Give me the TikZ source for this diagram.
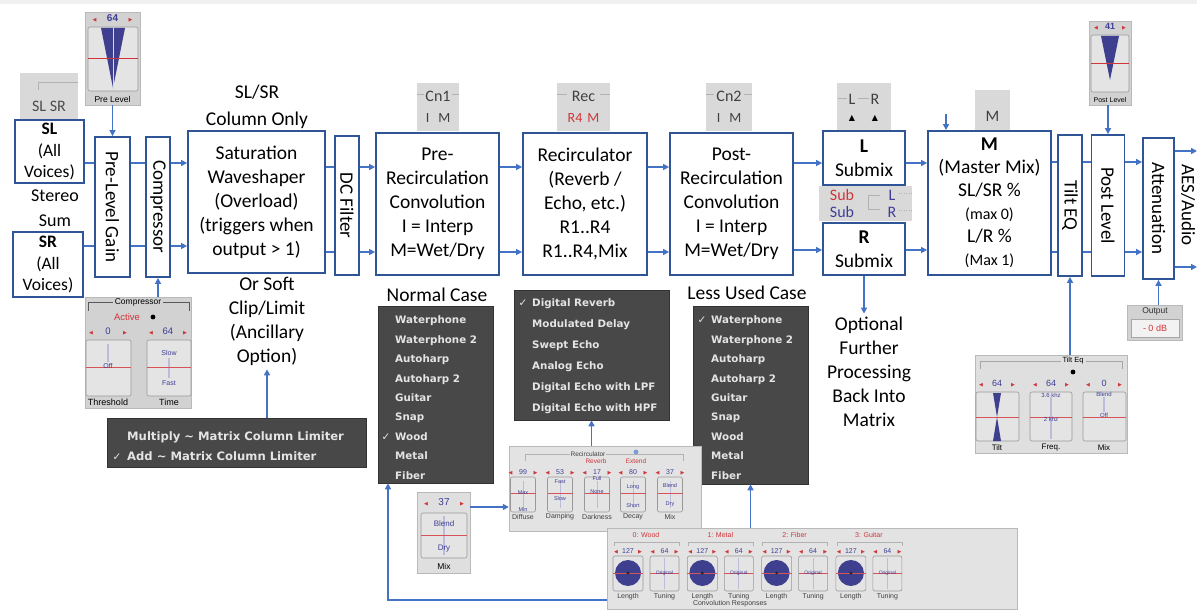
\documentclass[tikz,border=0pt]{standalone}
\usepackage{fontspec}
\setmainfont{Carlito}
\newfontfamily\menufont{DejaVu Sans}
\newfontfamily\uifont{Liberation Sans}
\usetikzlibrary{arrows.meta}

\definecolor{boxblue}{HTML}{2F5597}
\definecolor{wireblue}{HTML}{4472C4}
\definecolor{menugray}{HTML}{484848}
\definecolor{menutext}{HTML}{E4E4E4}
\definecolor{panelgray}{HTML}{D2D2D2}
\definecolor{knobgray}{HTML}{E4E4E4}
\definecolor{uired}{HTML}{D0353A}
\definecolor{uiblue}{HTML}{3E3E96}
\definecolor{knobblue}{HTML}{3F3F8F}

\newcommand{\valbar}[2]{\makebox[#1]{{\color{uired}\menufont\fontsize{5}{6}\selectfont ◀}\hfill{\color{uiblue}#2}\hfill{\color{uired}\menufont\fontsize{5}{6}\selectfont ▶}}}

\begin{document}
\begin{tikzpicture}[
    x=1pt, y=-1pt,
    >={Triangle[length=6pt,width=6pt]},
    sz/.style 2 args={minimum width=#1pt, minimum height=#2pt},
    blk/.style={draw=boxblue, line width=1.8pt, fill=white, align=center, inner sep=0pt, font=\fontsize{19.5}{24}\selectfont},
    vtext/.style={rotate=-90, font=\fontsize{19}{20}\selectfont},
    wire/.style={draw=wireblue, line width=1.6pt},
    note/.style={align=center, font=\fontsize{19.5}{24}\selectfont},
    panel/.style={fill=panelgray, draw=gray!55, line width=0.4pt, inner sep=0pt},
    menu/.style={fill=menugray, draw=gray!40!black, line width=0.6pt, inner sep=0pt},
    item/.style={anchor=base west, text=menutext, inner sep=0pt, font=\menufont\bfseries\fontsize{10.3}{12}\selectfont},
    tick/.style={anchor=base, text=menutext, inner sep=0pt, font=\menufont\fontsize{10.5}{12}\selectfont},
    knob/.style={fill=knobgray, draw=gray!80, rounded corners=2pt, line width=0.6pt},
    tiny/.style={inner sep=0pt, font=\uifont\fontsize{7}{8}\selectfont},
    chip/.style={font=\fontsize{16}{17}\selectfont, text=black!75, inner sep=0pt}
]
    \useasboundingbox (0,0) rectangle (1197,612);
    \fill[gray!12] (0,0) rectangle (1197,4);

    % small selectors above the chain
    \node[panel, sz={58}{47}, draw=none, fill=gray!30] (slsrw) at (49,96.5) {};
    \draw[gray!60, line width=0.6pt] (38,90) |- (78,82);
    \node[chip, text=black!70] at (49,106) {SL SR};

    \node[panel, sz={55}{93}] (prew) at (112.5,58.5) {};
    \node[tiny, font=\uifont\bfseries\fontsize{10}{11}\selectfont] at (112.5,18) {\valbar{40pt}{64}};
    \draw[knob] (88,27) rectangle (138,91);
    \fill[knobblue] (101,28) -- (125,28) -- (113,88) -- cycle;
    \draw[white!70!gray, line width=0.5pt] (113,28) -- (113,90);
    \draw[uired, line width=0.7pt] (88,58) -- (138,58);
    \node[tiny, font=\uifont\fontsize{8.5}{9}\selectfont] at (112.5,99) {Pre Level};

    \node[panel, sz={42}{48}, draw=none, fill=gray!30] (cn1w) at (438,107) {};
    \draw[gray!60, line width=0.5pt] (417,94) -- (424,94) (452,94) -- (459,94);
    \node[chip] at (438,96) {Cn1};
    \node[chip, font=\fontsize{14}{15}\selectfont] at (438,118) {I\hspace{9pt}M};

    \node[panel, sz={53}{48}, draw=none, fill=gray!30] (recsw) at (583.5,107) {};
    \draw[gray!60, line width=0.5pt] (557,94) -- (567,94) (600,94) -- (610,94);
    \node[chip] at (583.5,96) {Rec};
    \node[chip, font=\fontsize{14}{15}\selectfont, text=uired] at (583.5,118) {R4\hspace{5pt}M};

    \node[panel, sz={46}{48}, draw=none, fill=gray!30] (cn2w) at (729,107) {};
    \draw[gray!60, line width=0.5pt] (706,94) -- (714,94) (744,94) -- (752,94);
    \node[chip] at (729,96) {Cn2};
    \node[chip, font=\fontsize{14}{15}\selectfont] at (729,118) {I\hspace{9pt}M};

    \node[panel, sz={54}{47}, draw=none, fill=gray!30] (lrw) at (864,106.5) {};
    \draw[gray!60, line width=0.5pt] (838,98) -- (847,98) (858,98) -- (869,98);
    \node[chip] at (852,99) {L};
    \node[chip] at (875,99) {R};
    \node[font=\menufont\fontsize{8}{9}\selectfont] at (852,118) {▲};
    \node[font=\menufont\fontsize{8}{9}\selectfont] at (875,118) {▲};

    \node[panel, sz={93}{35}, draw=none, fill=gray!30] (subw) at (865.5,203.5) {};
    \draw[gray!60, line width=0.5pt] (880,195) -- (868,195) -- (868,209) -- (880,209);
    \draw[gray!60, line width=0.4pt, dotted] (899,193) -- (912,193) (899,210) -- (912,210);
    \node[chip, text=uired] at (842,195) {Sub};
    \node[chip, text=uiblue] at (842,212) {Sub};
    \node[chip, text=uiblue] at (892,195) {L};
    \node[chip, text=uiblue] at (892,212) {R};

    \node[panel, sz={35}{41}, draw=none, fill=gray!30] (mw) at (992.5,110.5) {};
    \node[chip] at (992.5,116) {M};

    \node[panel, sz={42}{84}] (postw) at (1110,63) {};
    \node[tiny, font=\uifont\bfseries\fontsize{9}{10}\selectfont] at (1110,27) {\valbar{32pt}{41}};
    \draw[knob] (1091,35) rectangle (1129,92);
    \fill[knobblue] (1101,36) -- (1119,36) -- (1110,80) -- cycle;
    \draw[uired, line width=0.7pt] (1091,63) -- (1129,63);
    \node[tiny, font=\uifont\fontsize{7}{8}\selectfont] at (1110,100) {Post Level};

    % signal chain
    \node[blk, sz={69}{63}, font=\fontsize{17.5}{21.5}\selectfont] (sl) at (49.5,151.5) {\textbf{SL}\\(All\\Voices)};
    \node[blk, sz={70}{65}, font=\fontsize{17.5}{21.5}\selectfont] (sr) at (48,264.5) {\textbf{SR}\\(All\\Voices)};
    \node[blk, sz={35}{140}, label={[vtext]center:Pre-Level Gain}] (plg) at (112.5,207) {};
    \node[blk, sz={24}{140}, label={[vtext]center:Compressor}] (comp) at (158,207) {};
    \node[blk, sz={137}{142}] (sat) at (256.5,202) {Saturation\\Waveshaper\\(Overload)\\(triggers when\\output > 1)};
    \node[blk, sz={24}{139}, label={[vtext]center:DC Filter}] (dcf) at (347,205.5) {};
    \node[blk, sz={123}{142}] (prc) at (437.5,204) {Pre-\\Recirculation\\Convolution\\I = Interp\\M=Wet/Dry};
    \node[blk, sz={124}{142}] (rec) at (585,204) {Recirculator\\(Reverb /\\Echo, etc.)\\R1..R4\\R1..R4,Mix};
    \node[blk, sz={123}{142}] (poc) at (731.5,204) {Post-\\Recirculation\\Convolution\\I = Interp\\M=Wet/Dry};
    \node[blk, sz={82}{54}] (lsub) at (864,158) {\textbf{L}\\Submix};
    \node[blk, sz={82}{52}] (rsub) at (864,249) {\textbf{R}\\Submix};
    \node[blk, sz={123}{144}, font=\fontsize{19.5}{23}\selectfont] (mm) at (989.5,203) {\textbf{M}\\(Master Mix)\\SL/SR \%\\{\fontsize{16}{23}\selectfont(max 0)}\\L/R \%\\{\fontsize{16}{23}\selectfont(Max 1)}};
    \node[blk, sz={24}{141}, label={[vtext]center:Tilt EQ}] (tilt) at (1070,205.5) {};
    \node[blk, sz={33}{141}, label={[vtext]center:Post Level}] (post) at (1108,205.5) {};
    \node[blk, sz={31}{141}, label={[vtext]center:Attenuation}] (att) at (1158.5,208.5) {};
    \node[vtext] (aes) at (1188,205) {AES/Audio};

    \node[note, font=\fontsize{19.5}{27}\selectfont] (colonly) at (257,107) {SL/SR\\Column Only};
    \node[note, font=\fontsize{18}{25}\selectfont] (stsum) at (55,208) {Stereo\\Sum};
    \node[note] (soft) at (267,321.5) {Or Soft\\Clip/Limit\\(Ancillary\\Option)};
    \node[note] (opt) at (869,372) {Optional\\Further\\Processing\\Back Into\\Matrix};
    \node[note] (normlab) at (437,295) {Normal Case};
    \node[note] (lesslab) at (747,293) {Less Used Case};

    % rails
    \coordinate (railA) at (0,163);
    \coordinate (railB) at (0,246);
    \coordinate (railC) at (0,167);
    \coordinate (railD) at (0,252);
    \coordinate (railE) at (0,163);
    \coordinate (railF) at (0,250);
    \coordinate (railG) at (0,162);
    \coordinate (railH) at (0,252);
    \coordinate (outA) at (1197,151);
    \coordinate (outB) at (1197,267);
    \coordinate (mtop) at (946,114);

    \draw[wire] (sl.east |- railA) -- (plg.west |- railA);
    \draw[wire] (sr.east |- railB) -- (plg.west |- railB);
    \draw[wire] (plg.east |- railA) -- (comp.west |- railA);
    \draw[wire] (plg.east |- railB) -- (comp.west |- railB);
    \draw[wire, ->] (comp.east |- railA) -- (sat.west |- railA);
    \draw[wire, ->] (comp.east |- railB) -- (sat.west |- railB);
    \draw[wire] (sat.east |- railC) -- (dcf.west |- railC);
    \draw[wire] (sat.east |- railD) -- (dcf.west |- railD);
    \draw[wire, ->] (dcf.east |- railC) -- (prc.west |- railC);
    \draw[wire, ->] (dcf.east |- railD) -- (prc.west |- railD);
    \draw[wire, ->] (prc.east |- railC) -- (rec.west |- railC);
    \draw[wire, ->] (prc.east |- railD) -- (rec.west |- railD);
    \draw[wire, ->] (rec.east |- railC) -- (poc.west |- railC);
    \draw[wire, ->] (rec.east |- railD) -- (poc.west |- railD);
    \draw[wire, ->] (poc.east |- railE) -- (lsub.west |- railE);
    \draw[wire, ->] (poc.east |- railF) -- (rsub.west |- railF);
    \draw[wire, ->] (lsub.east |- railE) -- (mm.west |- railE);
    \draw[wire, ->] (rsub.east |- railF) -- (mm.west |- railF);
    \draw[wire, ->] (mtop) -- (mtop |- mm.north);
    \draw[wire] (mm.east |- railG) -- (tilt.west |- railG);
    \draw[wire] (mm.east |- railH) -- (tilt.west |- railH);
    \draw[wire] (tilt.east |- railG) -- (post.west |- railG);
    \draw[wire] (tilt.east |- railH) -- (post.west |- railH);
    \draw[wire, ->] (post.east |- railG) -- (att.west |- railG);
    \draw[wire, ->] (post.east |- railH) -- (att.west |- railH);
    \draw[wire, ->] (att.east |- outA) -- (outA);
    \draw[wire, ->] (att.east |- outB) -- (outB);
    \draw[wire, ->] (prew.south) -- (plg.north);
    \draw[wire, ->] (post.north |- postw.south) -- (post.north);
    \draw[wire, ->] (rsub.south) -- (rsub.south |- opt.north);

    % compressor panel
    \node[panel, sz={106}{111}] (compw) at (138,352.5) {};
    \draw[gray!70!black, line width=0.5pt] (88,311) |- (189,302) -- (189,311);
    \node[tiny, fill=panelgray, inner xsep=2pt, font=\uifont\fontsize{8.5}{9}\selectfont] at (138,302) {Compressor};
    \node[tiny, text=uired, font=\uifont\fontsize{9.5}{10}\selectfont] at (127,317) {Active};
    \fill (153,317) circle (2.4pt);
    \node[tiny, font=\uifont\fontsize{9.5}{10}\selectfont] at (108,331) {\valbar{38pt}{0}};
    \node[tiny, font=\uifont\fontsize{9.5}{10}\selectfont] at (168,331) {\valbar{38pt}{64}};
    \draw[knob] (86,340) rectangle (131,396);
    \draw[knob] (147,340) rectangle (191,396);
    \draw[uiblue!35, line width=1.2pt] (108,344) -- (108,362);
    \draw[uiblue!35, line width=1.2pt] (169,358) -- (169,378);
    \draw[uired!85, line width=0.6pt] (86,367) -- (131,367) (147,367) -- (191,367);
    \node[tiny, text=uiblue] at (108,366) {Off};
    \node[tiny, text=uiblue] at (169,353) {Slow};
    \node[tiny, text=uiblue] at (169,383) {Fast};
    \node[tiny, font=\uifont\fontsize{9}{10}\selectfont] at (108,402) {Threshold};
    \node[tiny, font=\uifont\fontsize{9}{10}\selectfont] at (169,402) {Time};
    \draw[wire, ->] (comp.south |- compw.north) -- (comp.south);

    % limiter menu
    \node[menu, sz={259}{49}] (limm) at (236.5,442.5) {};
    \node[item, font=\menufont\bfseries\fontsize{11.6}{13}\selectfont] at (127,440) {Multiply \textasciitilde{} Matrix Column Limiter};
    \node[item, font=\menufont\bfseries\fontsize{11.6}{13}\selectfont] at (127,460) {Add \textasciitilde{} Matrix Column Limiter};
    \node[tick] at (117,460) {✓};
    \draw[wire, ->] (soft.south |- limm.north) -- (soft.south);

    % convolution menus
    \node[menu, sz={115}{177}] (normm) at (435.5,394.5) {};
    \foreach \t [count=\i from 0] in {Waterphone, Waterphone 2, Autoharp, Autoharp 2, Guitar, Snap, Wood, Metal, Fiber}
        \node[item] at (395,{323.8+19.4*\i}) {\t};
    \node[tick] at (386,440) {✓};

    \node[menu, sz={115}{178}] (lessm) at (750.5,395) {};
    \foreach \t [count=\i from 0] in {Waterphone, Waterphone 2, Autoharp, Autoharp 2, Guitar, Snap, Wood, Metal, Fiber}
        \node[item] at (711,{323.8+19.4*\i}) {\t};
    \node[tick] at (702,323.8) {✓};

    % recirculator menu and panel
    \node[menu, sz={155}{130}] (revm) at (591.5,355) {};
    \foreach \t [count=\i from 0] in {Digital Reverb, Modulated Delay, Swept Echo, Analog Echo, Digital Echo with LPF, Digital Echo with HPF}
        \node[item] at (532,{306.8+21*\i}) {\t};
    \node[tick] at (523,306.8) {✓};

    \node[panel, sz={192}{85}, fill=gray!22] (recw) at (605,488.5) {};
    \draw[gray!60, line width=0.4pt] (525,461) |- (683,454) -- (683,461);
    \node[tiny, fill=gray!22, inner xsep=1pt, font=\uifont\fontsize{6.5}{7}\selectfont, text=black!75] at (588,454) {Recirculator};
    \node[tiny, text=uired, font=\uifont\fontsize{6.5}{7}\selectfont] at (596,461) {Reverb};
    \node[tiny, text=uired, font=\uifont\fontsize{6.5}{7}\selectfont] at (636,461) {Extend};
    \fill[wireblue!70] (636,452) circle (2.4pt);
    \foreach \cx/\v/\ta/\ya/\tb/\yb/\lab in {523/99/Max/493/Min/510/Diffuse, 560/53/Fast/482/Slow/499/Damping, 597/17/Full/479/None/492/Darkness, 633/80/Long/487/Short/506/Decay, 670/37/Blend/486/Dry/504/Mix} {
        \node[tiny, font=\uifont\fontsize{7}{8}\selectfont] at (\cx,472) {\valbar{29pt}{\v}};
        \draw[knob] (\cx-12.5,477) rectangle (\cx+12.5,512);
        \draw[uiblue!35, line width=1pt] (\cx,481) -- (\cx,508);
        \draw[uired!85, line width=0.5pt] (\cx-12.5,493) -- (\cx+12.5,493);
        \node[tiny, text=uiblue, font=\uifont\fontsize{5.5}{6}\selectfont] at (\cx,\ya) {\ta};
        \node[tiny, text=uiblue, font=\uifont\fontsize{5.5}{6}\selectfont] at (\cx,\yb) {\tb};
        \node[tiny, text=black!75] at (\cx,517) {\lab};
    }
    \draw[wire, ->] (revm.south |- recw.north) -- (revm.south);

    % mix panel
    \node[panel, sz={53}{81}, fill=gray!25] (mixw) at (443.5,532.5) {};
    \node[tiny, font=\uifont\fontsize{10}{11}\selectfont] at (444,502) {\valbar{40pt}{37}};
    \draw[knob] (421,513) rectangle (467,558);
    \draw[uiblue!35, line width=1.2pt] (444,516) -- (444,555);
    \draw[uired!85, line width=0.6pt] (421,535) -- (467,535);
    \node[tiny, text=uiblue, font=\uifont\fontsize{8}{9}\selectfont] at (444,524) {Blend};
    \node[tiny, text=uiblue, font=\uifont\fontsize{8}{9}\selectfont] at (444,549) {Dry};
    \node[tiny, font=\uifont\fontsize{8.5}{9}\selectfont] at (444,566) {Mix};
    \draw[wire, ->] ([yshift=25.5pt]mixw.east) -- ([yshift=25.5pt]mixw.east -| recw.west);

    % convolution responses panel
    \node[panel, sz={410}{81}, fill=gray!22] (convw) at (812,568.5) {};
    \foreach \k/\nm in {0/{0: Wood}, 1/{1: Metal}, 2/{2: Fiber}, 3/{3: Guitar}} {
        \node[tiny, text=uired, font=\uifont\fontsize{7}{8}\selectfont] at ({646+74.3*\k},535) {\nm};
        \draw[gray!60, line width=0.4pt] ({614+74.3*\k},546) |- ({679+74.3*\k},542) -- ({679+74.3*\k},546);
        \node[tiny, font=\uifont\fontsize{7}{8}\selectfont] at ({628+74.3*\k},551) {\valbar{28pt}{127}};
        \node[tiny, font=\uifont\fontsize{7}{8}\selectfont] at ({664.5+74.3*\k},551) {\valbar{28pt}{64}};
        \draw[knob] ({613+74.3*\k},556) rectangle ({643+74.3*\k},591);
        \draw[knob] ({650+74.3*\k},556) rectangle ({679+74.3*\k},591);
        \fill[knobblue] ({628+74.3*\k},573) circle (13pt);
        \draw[uired!85, line width=0.5pt] ({613+74.3*\k},573) -- ({643+74.3*\k},573);
        \fill[black!85] ({628+74.3*\k},573) circle (1.6pt);
        \draw[uiblue!35, line width=1pt] ({664.5+74.3*\k},558) -- ({664.5+74.3*\k},589);
        \draw[uired!85, line width=0.5pt] ({650+74.3*\k},573) -- ({679+74.3*\k},573);
        \node[tiny, text=uiblue, font=\uifont\fontsize{5}{6}\selectfont] at ({664.5+74.3*\k},573) {Original};
        \node[tiny, text=black!75] at ({628+74.3*\k},597) {Length};
        \node[tiny, text=black!75] at ({664.5+74.3*\k},597) {Tuning};
    }
    \node[tiny, text=black!75] at (730,604) {Convolution Responses};
    \draw[wire, ->] ([yshift=-31.5pt]convw.west) -| ([xshift=-47.5pt]normm.south);
    \draw[wire, ->] (lessm.south |- convw.north) -- (lessm.south);

    % tilt eq panel
    \node[panel, sz={152}{98}, fill=gray!25] (tiltw) at (1051,404) {};
    \draw[gray!70, line width=0.4pt] (980,369) |- (1122,361) -- (1122,369);
    \node[tiny, fill=gray!25, inner xsep=2pt, font=\uifont\fontsize{7.5}{8}\selectfont] at (1073,361) {Tilt Eq};
    \fill (1073,372) circle (2.4pt);
    \node[tiny, font=\uifont\fontsize{9}{10}\selectfont] at (997,384) {\valbar{36pt}{64}};
    \node[tiny, font=\uifont\fontsize{9}{10}\selectfont] at (1051,384) {\valbar{36pt}{64}};
    \node[tiny, font=\uifont\fontsize{9}{10}\selectfont] at (1104,384) {\valbar{36pt}{0}};
    \draw[knob] (976,392) rectangle (1019,441);
    \draw[knob] (1030,392) rectangle (1072,441);
    \draw[knob] (1083,392) rectangle (1126,441);
    \fill[knobblue] (993,393) -- (1001,393) -- (997,417) -- (1001,441) -- (993,441) -- (997,417) -- cycle;
    \draw[uiblue!35, line width=1.2pt] (1051,397) -- (1051,439);
    \draw[uiblue!35, line width=1.2pt] (1104,397) -- (1104,412);
    \draw[uired!85, line width=0.6pt] (976,417) -- (1019,417) (1030,417) -- (1072,417) (1083,417) -- (1126,417);
    \node[tiny, text=uiblue, font=\uifont\fontsize{6}{7}\selectfont] at (1051,395) {3.6 khz};
    \node[tiny, text=uiblue, font=\uifont\fontsize{6}{7}\selectfont] at (1051,419) {2 khz};
    \node[tiny, text=uiblue, font=\uifont\fontsize{6}{7}\selectfont] at (1104,394) {Blend};
    \node[tiny, text=uiblue, font=\uifont\fontsize{6}{7}\selectfont] at (1104,415) {Off};
    \node[tiny, font=\uifont\fontsize{8}{9}\selectfont] at (997,448) {Tilt};
    \node[tiny, font=\uifont\fontsize{8}{9}\selectfont] at (1051,448) {Freq.};
    \node[tiny, font=\uifont\fontsize{8}{9}\selectfont] at (1104,448) {Mix};
    \draw[wire, ->] (tilt.south |- tiltw.north) -- (tilt.south);

    % output panel
    \node[panel, sz={55}{35}] (outw) at (1154.5,322.5) {};
    \node[tiny, font=\uifont\fontsize{8.5}{9}\selectfont, text=black!80] at (1155,311) {Output};
    \draw[fill=gray!10, draw=gray!70, line width=0.5pt] (1131,319) rectangle (1179,337);
    \node[tiny, text=uired, font=\uifont\fontsize{9}{10}\selectfont] at (1155,328) {- 0 dB};
    \draw[wire, ->] (att.south |- outw.north) -- (att.south);
\end{tikzpicture}
\end{document}
